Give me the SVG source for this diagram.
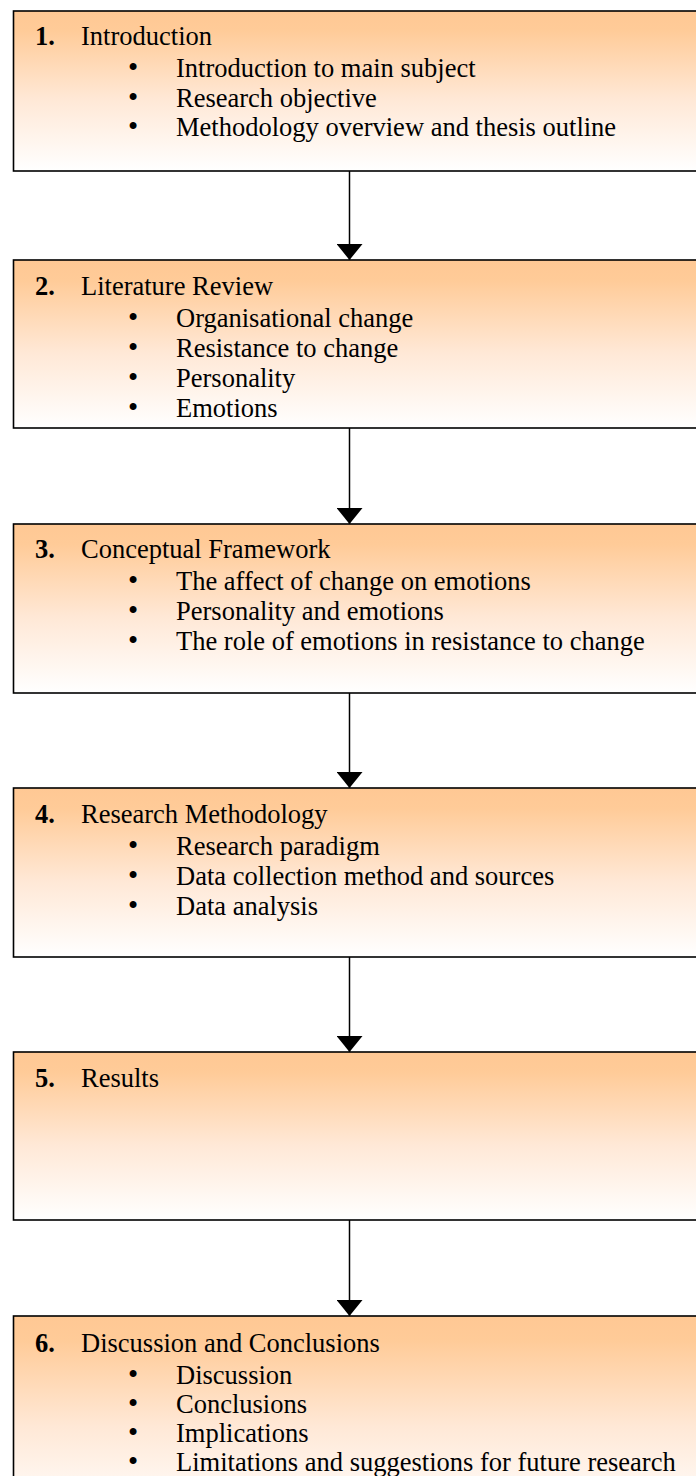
<svg xmlns="http://www.w3.org/2000/svg" width="696" height="1476" viewBox="0 0 696 1476">
  <style>
    .box { fill: url(#peach); stroke: #000; stroke-width: 1.6; }
    .num { font-family: "Liberation Serif", "Times New Roman", serif; font-size: 26.5px; font-weight: bold; fill: #000; }
    .title { font-family: "Liberation Serif", "Times New Roman", serif; font-size: 26.5px; fill: #000; }
    .item { font-family: "Liberation Serif", "Times New Roman", serif; font-size: 26.5px; fill: #000; }
    .bul { font-family: "Liberation Serif", "Times New Roman", serif; font-size: 29px; fill: #000; }
    .conn { stroke: #000; stroke-width: 1.5; fill: none; marker-end: url(#arrow); }
  </style>
  <defs>
    <linearGradient id="peach" x1="0" y1="0" x2="0" y2="1">
      <stop offset="0" stop-color="#FFC894"/>
      <stop offset="0.12" stop-color="#FFCB98"/>
      <stop offset="0.55" stop-color="#FFE8D6"/>
      <stop offset="1" stop-color="#FFFFFF"/>
    </linearGradient>
    <marker id="arrow" viewBox="0 0 16 26" refX="16" refY="13" markerWidth="16" markerHeight="26" markerUnits="userSpaceOnUse" orient="auto">
      <path d="M0,0 L16,13 L0,26 Z" fill="#000"/>
    </marker>
  </defs>

  <rect width="696" height="1476" fill="#FFFFFF"/>

  <g id="connectors">
    <line class="conn" x1="349.5" y1="171" x2="349.5" y2="260"/>
    <line class="conn" x1="349.5" y1="428" x2="349.5" y2="524"/>
    <line class="conn" x1="349.5" y1="693" x2="349.5" y2="788"/>
    <line class="conn" x1="349.5" y1="957" x2="349.5" y2="1052"/>
    <line class="conn" x1="349.5" y1="1220" x2="349.5" y2="1316"/>
  </g>

  <g id="node1">
    <rect class="box" x="13.5" y="11" width="710" height="160"/>
    <text class="num" x="35" y="45">1.</text>
    <text class="title" x="81" y="45">Introduction</text>
    <text class="bul" x="128" y="77">•</text>
    <text class="item" x="176" y="77">Introduction to main subject</text>
    <text class="bul" x="128" y="107">•</text>
    <text class="item" x="176" y="107">Research objective</text>
    <text class="bul" x="128" y="136">•</text>
    <text class="item" x="176" y="136">Methodology overview and thesis outline</text>
  </g>

  <g id="node2">
    <rect class="box" x="13.5" y="260" width="710" height="168"/>
    <text class="num" x="35" y="295">2.</text>
    <text class="title" x="81" y="295">Literature Review</text>
    <text class="bul" x="128" y="327">•</text>
    <text class="item" x="176" y="327">Organisational change</text>
    <text class="bul" x="128" y="357">•</text>
    <text class="item" x="176" y="357">Resistance to change</text>
    <text class="bul" x="128" y="387">•</text>
    <text class="item" x="176" y="387">Personality</text>
    <text class="bul" x="128" y="417">•</text>
    <text class="item" x="176" y="417">Emotions</text>
  </g>

  <g id="node3">
    <rect class="box" x="13.5" y="524" width="710" height="169"/>
    <text class="num" x="35" y="558">3.</text>
    <text class="title" x="81" y="558">Conceptual Framework</text>
    <text class="bul" x="128" y="590">•</text>
    <text class="item" x="176" y="590">The affect of change on emotions</text>
    <text class="bul" x="128" y="620">•</text>
    <text class="item" x="176" y="620">Personality and emotions</text>
    <text class="bul" x="128" y="650">•</text>
    <text class="item" x="176" y="650">The role of emotions in resistance to change</text>
  </g>

  <g id="node4">
    <rect class="box" x="13.5" y="788" width="710" height="169"/>
    <text class="num" x="35" y="823">4.</text>
    <text class="title" x="81" y="823">Research Methodology</text>
    <text class="bul" x="128" y="855">•</text>
    <text class="item" x="176" y="855">Research paradigm</text>
    <text class="bul" x="128" y="885">•</text>
    <text class="item" x="176" y="885">Data collection method and sources</text>
    <text class="bul" x="128" y="915">•</text>
    <text class="item" x="176" y="915">Data analysis</text>
  </g>

  <g id="node5">
    <rect class="box" x="13.5" y="1052" width="710" height="168"/>
    <text class="num" x="35" y="1087">5.</text>
    <text class="title" x="81" y="1087">Results</text>
  </g>

  <g id="node6">
    <rect class="box" x="13.5" y="1316" width="710" height="200"/>
    <text class="num" x="35" y="1352">6.</text>
    <text class="title" x="81" y="1352">Discussion and Conclusions</text>
    <text class="bul" x="128" y="1384">•</text>
    <text class="item" x="176" y="1384">Discussion</text>
    <text class="bul" x="128" y="1413">•</text>
    <text class="item" x="176" y="1413">Conclusions</text>
    <text class="bul" x="128" y="1442">•</text>
    <text class="item" x="176" y="1442">Implications</text>
    <text class="bul" x="128" y="1471">•</text>
    <text class="item" x="176" y="1471">Limitations and suggestions for future research</text>
  </g>
</svg>
